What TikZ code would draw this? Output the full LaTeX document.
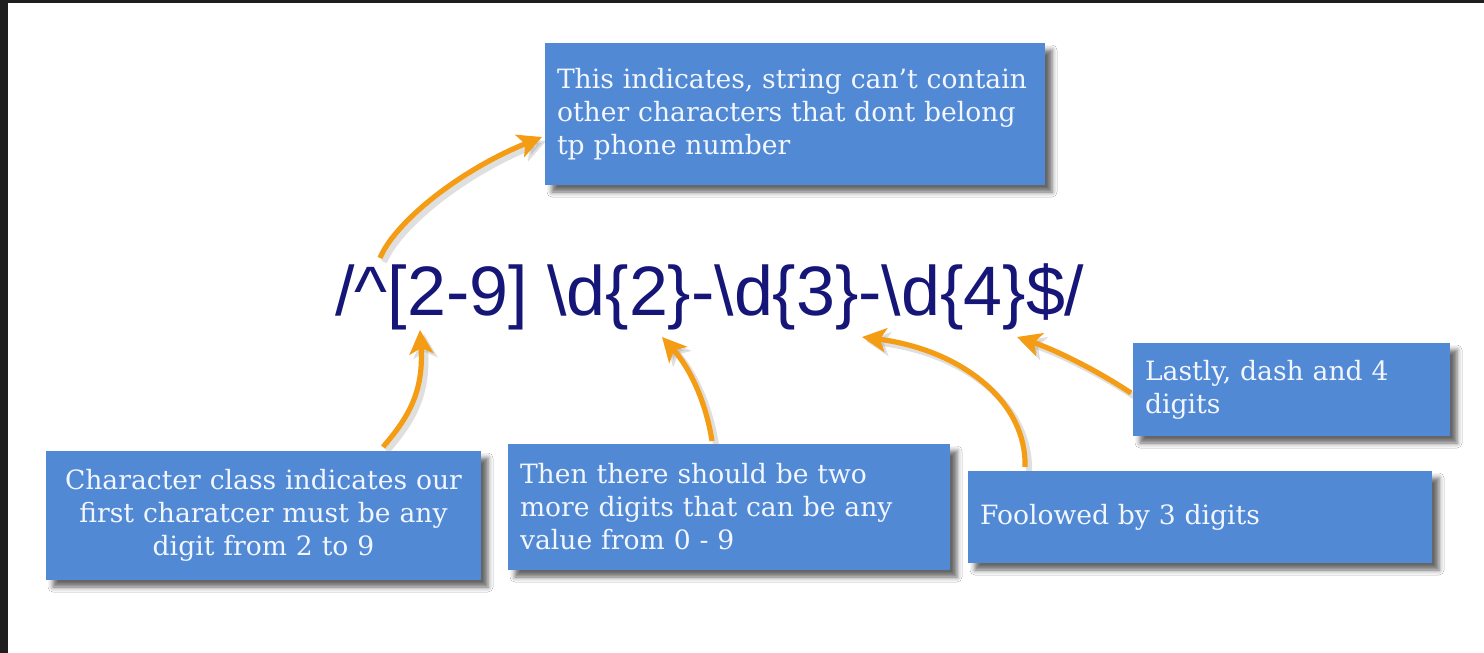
\documentclass[tikz,border=0pt]{standalone}
\usepackage{fontspec}
\setmainfont{DejaVu Serif}
\newfontfamily\regexfont{Liberation Sans}
\usetikzlibrary{arrows.meta,shadows.blur,calc}
\definecolor{boxblue}{RGB}{81,137,213}
\definecolor{boxtext}{RGB}{242,246,255}
\definecolor{arroworange}{RGB}{244,156,20}
\definecolor{regexnavy}{RGB}{22,22,120}
\definecolor{framedark}{RGB}{30,30,30}
\begin{document}
\begin{tikzpicture}[x=0.5pt,y=-0.5pt,
  note/.style={rectangle, fill=boxblue, text=boxtext,
    font=\fontsize{13.3}{16.5}\selectfont, inner xsep=6pt, inner ysep=0pt,
    blur shadow={shadow xshift=3.5pt, shadow yshift=-3.5pt, shadow blur radius=2.5pt, shadow opacity=60}},
  callout/.style={draw=arroworange, line width=2.6pt, -{Stealth[length=12pt,width=12pt,inset=3pt]},
    preaction={draw=black!50, opacity=0.25, line width=3pt, transform canvas={xshift=2pt,yshift=-2pt}}}]
\useasboundingbox (0,0) rectangle (1484,653);
\fill[framedark] (0,0) rectangle (1484,653);
\fill[white] (8,3) rectangle (1484,653);

% regex
\node[anchor=base, text=regexnavy, font=\regexfont\fontsize{35}{40}\selectfont, inner sep=0pt]
  (regex) at (710,315) {/\textasciicircum[2-9] \textbackslash d\{2\}-\textbackslash d\{3\}-\textbackslash d\{4\}\$/};

% notes
\node[note, text width=238pt, minimum height=71pt, align=left] (top) at (795,114)
  {\mbox{This indicates, string can't contain}\\\mbox{other characters that dont belong}\\\mbox{tp phone number}};
\node[note, text width=205.5pt, minimum height=64.5pt, align=center] (bl) at (263.5,515.5)
  {\mbox{Character class indicates our}\\\mbox{first charatcer must be any}\\\mbox{digit from 2 to 9}};
\node[note, text width=209pt, minimum height=63pt, align=left] (mid) at (729,507)
  {\mbox{Then there should be two}\\\mbox{more digits that can be any}\\\mbox{value from 0 - 9}};
\node[note, text width=220pt, minimum height=46pt, align=left] (fol) at (1200,517)
  {Foolowed by 3 digits};
\node[note, text width=146.5pt, minimum height=46.5pt, align=left] (last) at (1291.5,389.5)
  {\mbox{Lastly, dash and 4}\\\mbox{digits}};

% connector end points
\coordinate (aS) at (380,258);
\coordinate (aE) at (542,137);
\coordinate (bS) at (383,447);
\coordinate (bE) at (420,330);
\coordinate (cS) at (712,441);
\coordinate (cE) at (662,337);
\coordinate (dS) at (1025,467);
\coordinate (dE) at (862,337);
\coordinate (eS) at (1131,393);
\coordinate (eE) at (1017,337);

\draw[callout] (aS) .. controls (395,222) and (460,170) .. (aE);
\draw[callout] (bS) .. controls (408,418) and (424,392) .. (bE);
\draw[callout] (cS) .. controls (706,402) and (690,368) .. (cE);
\draw[callout] (dS) .. controls (1027,402) and (962,350) .. (dE);
\draw[callout] (eS) .. controls (1090,366) and (1050,348) .. (eE);
\end{tikzpicture}
\end{document}
